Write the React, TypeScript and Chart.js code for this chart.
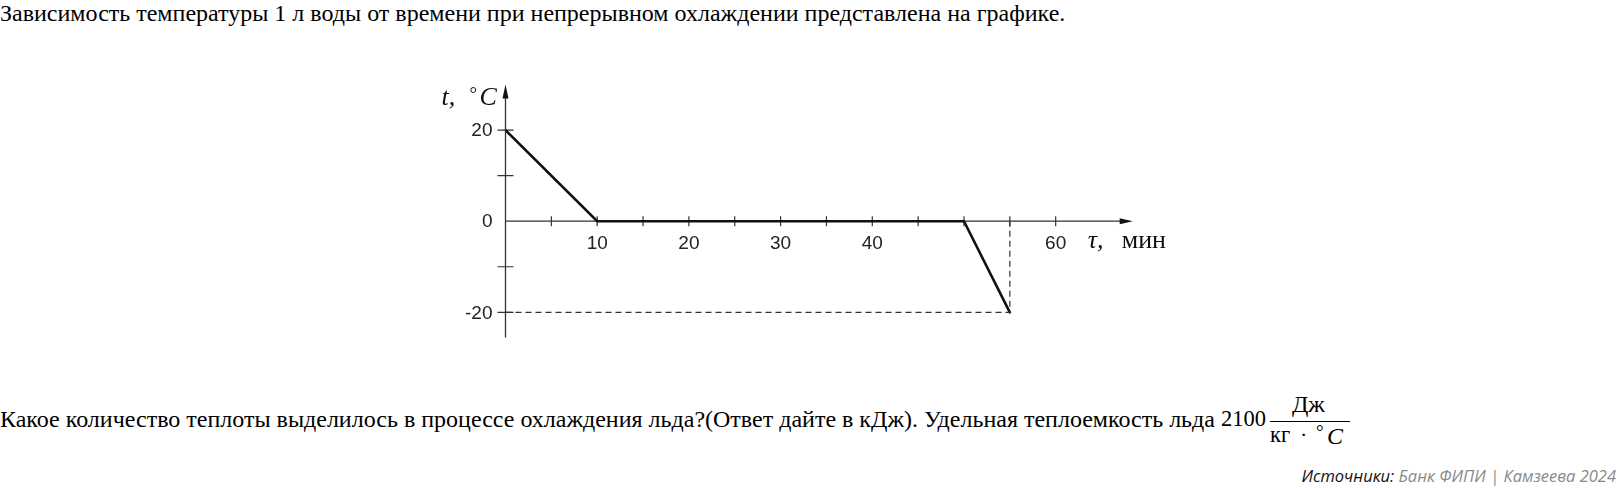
import React, { useEffect, useRef } from "react";
import { Chart, registerables } from "chart.js";

Chart.register(...registerables);

// ---- data ----
const timeMin = [0, 10, 50, 55];
const tempC = [20, 0, 0, -20];
const guideTime = [0, 55, 55];
const guideTemp = [-20, -20, 0];
const xTickValues = [5, 10, 15, 20, 25, 30, 35, 40, 45, 50, 55, 60];
const xLabelValues = [10, 20, 30, 40, 60];
const yTickValues = [-20, -10, 10, 20];
const yLabelValues = [-20, 0, 20];
const xRange = [0, 68.4];
const yRange = [-25.5, 30];

const titleText =
  "Зависимость температуры 1 л воды от времени при непрерывном охлаждении представлена на графике.";
const questionText =
  "Какое количество теплоты выделилось в процессе охлаждения льда?(Ответ дайте в кДж). Удельная теплоемкость льда";

const SERIF = '"Liberation Serif", "Times New Roman", serif';
const SANS = '"Liberation Sans", Arial, sans-serif';

const axesPlugin = {
  id: "axesArrows",
  beforeDatasetsDraw(chart: any) {
    const { ctx, scales } = chart;
    const x = scales.x;
    const y = scales.y;
    const x0 = x.getPixelForValue(0);
    const y0 = y.getPixelForValue(0);
    const xEnd = x.getPixelForValue(xRange[1]);
    const yTop = y.getPixelForValue(yRange[1]);
    const yBot = y.getPixelForValue(yRange[0]);
    ctx.save();
    ctx.strokeStyle = "#333";
    ctx.lineWidth = 1.3;
    ctx.beginPath();
    ctx.moveTo(x0, yBot);
    ctx.lineTo(x0, yTop + 8);
    ctx.moveTo(x0, y0);
    ctx.lineTo(xEnd - 8, y0);
    ctx.stroke();
    // arrow heads
    ctx.fillStyle = "#111";
    ctx.beginPath();
    ctx.moveTo(x0, yTop);
    ctx.lineTo(x0 - 3, yTop + 14);
    ctx.lineTo(x0 + 3, yTop + 14);
    ctx.closePath();
    ctx.fill();
    ctx.beginPath();
    ctx.moveTo(xEnd, y0);
    ctx.lineTo(xEnd - 13, y0 - 3);
    ctx.lineTo(xEnd - 13, y0 + 3);
    ctx.closePath();
    ctx.fill();
    // tick marks
    ctx.lineWidth = 1.2;
    ctx.beginPath();
    xTickValues.forEach((v) => {
      const px = x.getPixelForValue(v);
      ctx.moveTo(px, y0 - 5);
      ctx.lineTo(px, y0 + 5);
    });
    yTickValues.forEach((v) => {
      const py = y.getPixelForValue(v);
      ctx.moveTo(x0 - 8, py);
      ctx.lineTo(x0 + 8, py);
    });
    ctx.stroke();
    // tick labels
    ctx.fillStyle = "#222";
    ctx.font = `19px ${SANS}`;
    ctx.textAlign = "center";
    ctx.textBaseline = "middle";
    xLabelValues.forEach((v) => {
      ctx.fillText(String(v), x.getPixelForValue(v), y0 + 23);
    });
    ctx.textAlign = "right";
    yLabelValues.forEach((v) => {
      ctx.fillText(String(v), x0 - 13, y.getPixelForValue(v) + 1);
    });
    // axis titles
    ctx.fillStyle = "#111";
    ctx.textAlign = "left";
    ctx.textBaseline = "alphabetic";
    ctx.font = `italic 26px ${SERIF}`;
    ctx.fillText("t,", x0 - 64, yTop + 20.5);
    ctx.font = `19px ${SERIF}`;
    ctx.fillText("°", x0 - 36, yTop + 15);
    ctx.font = `italic 26px ${SERIF}`;
    ctx.fillText("C", x0 - 26, yTop + 20.5);
    ctx.fillText("τ,", xEnd - 45, y0 + 27);
    ctx.font = `26px ${SERIF}`;
    ctx.fillText("мин", xEnd - 11, y0 + 27);
    ctx.restore();
  },
};

function TempChart() {
  const ref = useRef<HTMLCanvasElement | null>(null);
  useEffect(() => {
    if (!ref.current) return;
    const chart = new Chart(ref.current, {
      type: "line",
      data: {
        datasets: [
          {
            data: guideTime.map((t, i) => ({ x: t, y: guideTemp[i] })),
            borderColor: "#333",
            borderWidth: 1.2,
            borderDash: [6, 4],
            pointRadius: 0,
            fill: false,
            tension: 0,
          },
          {
            data: timeMin.map((t, i) => ({ x: t, y: tempC[i] })),
            borderColor: "#111",
            borderWidth: 2.6,
            pointRadius: 0,
            fill: false,
            tension: 0,
            borderCapStyle: "round",
          },
        ],
      },
      options: {
        animation: false,
        responsive: false,
        devicePixelRatio: 1,
        layout: { padding: { left: 105.5, right: 67.3, top: 24.5, bottom: 22.6 } },
        plugins: { legend: { display: false }, tooltip: { enabled: false } },
        scales: {
          x: { type: "linear", min: xRange[0], max: xRange[1], display: false },
          y: { type: "linear", min: yRange[0], max: yRange[1], display: false },
        },
      },
      plugins: [axesPlugin],
    } as any);
    return () => chart.destroy();
  }, []);
  return <canvas ref={ref} width={800} height={300} style={{ width: 800, height: 300 }} />;
}

export default function App() {
  useEffect(() => {
    document.body.style.margin = "0";
  }, []);
  const abs = (o: any) => ({ position: "absolute" as const, whiteSpace: "nowrap" as const, ...o });
  return (
    <div style={{ position: "relative", width: 1616, height: 488, overflow: "hidden", background: "#fff", color: "#000" }}>
      <div style={abs({ left: 0, top: 0.9, fontFamily: SERIF, fontSize: 24, lineHeight: "24px" })}>{titleText}</div>
      <div style={abs({ left: 400, top: 60 })}>
        <TempChart />
      </div>
      <div style={abs({ left: 0, top: 406.9, fontFamily: SERIF, fontSize: 24, lineHeight: "24px" })}>{questionText}</div>
      <div style={abs({ left: 1221, top: 407.6, fontFamily: SERIF, fontSize: 22.5, lineHeight: "22.5px" })}>2100</div>
      <div style={abs({ left: 1292, top: 392, fontFamily: SERIF, fontSize: 24, lineHeight: "24px" })}>Дж</div>
      <div style={abs({ left: 1270, top: 420.5, width: 80, height: 1, background: "#000" })} />
      <div style={abs({ left: 1270, top: 424, fontFamily: SERIF, fontSize: 22.5, lineHeight: "22.5px" })}>кг</div>
      <div style={abs({ left: 1300, top: 424, fontFamily: SERIF, fontSize: 22, lineHeight: "22px" })}>·</div>
      <div style={abs({ left: 1316, top: 422, fontFamily: SERIF, fontSize: 19, lineHeight: "19px" })}>°</div>
      <div style={abs({ left: 1327, top: 423.5, fontFamily: SERIF, fontSize: 24, lineHeight: "24px", fontStyle: "italic" })}>C</div>
      <div style={abs({ right: 0, top: 468.3, fontFamily: '"Open Sans", sans-serif', fontSize: 16.5, lineHeight: "16.5px", fontStyle: "italic" })}>
        <span style={{ color: "#111" }}>Источники: </span>
        <span style={{ color: "#8a8a8a" }}>Банк ФИПИ | Камзеева 2024</span>
      </div>
    </div>
  );
}
